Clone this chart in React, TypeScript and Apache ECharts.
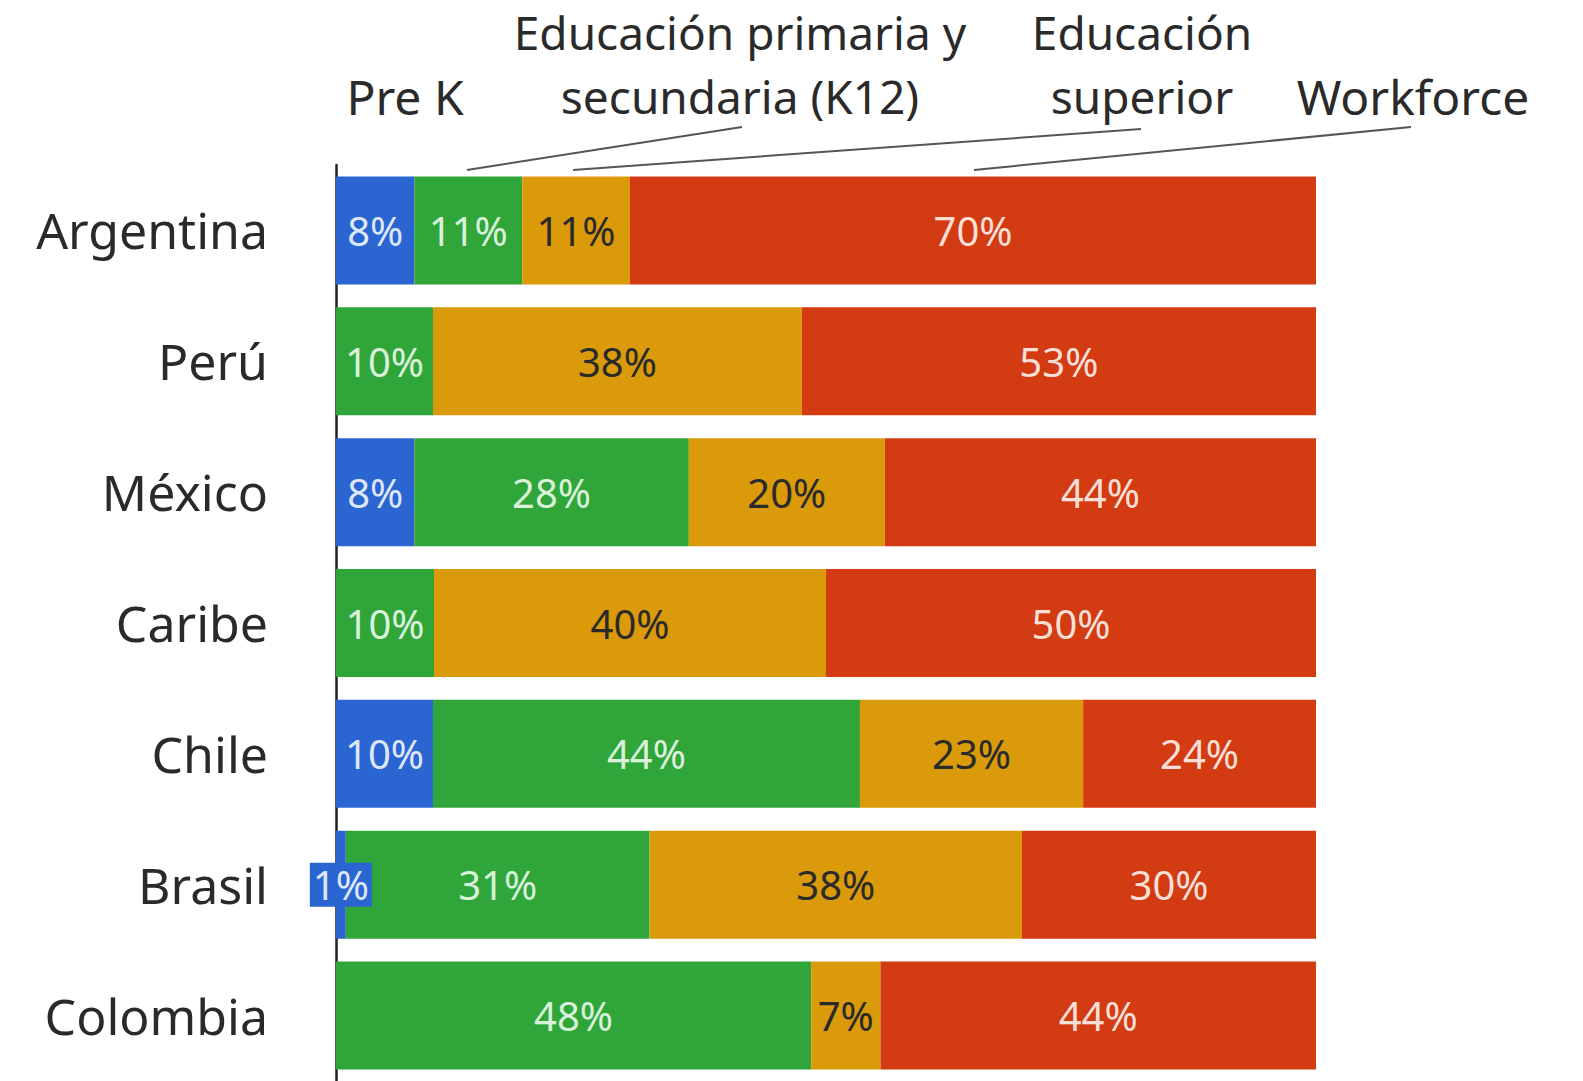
import React, { useEffect, useRef } from "react";
import * as echarts from "echarts";

const countries = ["Argentina", "Perú", "México", "Caribe", "Chile", "Brasil", "Colombia"];
const preK = [8, 0, 8, 0, 10, 1, 0];
const k12 = [11, 10, 28, 10, 44, 31, 48];
const superior = [11, 38, 20, 40, 23, 38, 7];
const workforce = [70, 53, 44, 50, 24, 30, 44];
const seriesNames = ["Pre K", "Educación primaria y secundaria (K12)", "Educación superior", "Workforce"];

const BLUE = "#2b65d1";
const GREEN = "#30a63a";
const ORANGE = "#db9a0a";
const RED = "#d33b12";
const FONT = "'Noto Sans', 'DejaVu Sans', sans-serif";

export default function App() {
  const ref = useRef<HTMLDivElement>(null);
  useEffect(() => {
    if (!ref.current) return;
    const chart = echarts.init(ref.current, null, { renderer: "svg" });
    const all = [preK, k12, superior, workforce];
    const totals = countries.map((_, i) => all.reduce((s, a) => s + a[i], 0));
    const colors = [BLUE, GREEN, ORANGE, RED];
    const labelColors = ["rgba(240,245,255,0.92)", "rgba(235,250,235,0.92)", "#2a2a2a", "rgba(255,240,235,0.92)"];

    const series = all.map((arr, si) => ({
      name: seriesNames[si],
      type: "bar",
      stack: "total",
      barWidth: 108,
      itemStyle: { color: colors[si] },
      label: {
        show: true,
        position: "inside",
        fontFamily: FONT,
        fontSize: 40,
        color: labelColors[si],
        formatter: (p: any) => (p.data && p.data.raw ? p.data.raw + "%" : ""),
      },
      data: arr.map((v, i) => {
        if (!v) return { value: null, raw: 0 };
        const item: any = { value: (v / totals[i]) * 100, raw: v };
        if (si === 0 && v < 3) {
          item.label = { backgroundColor: BLUE, padding: [4, 3, 0, 3] };
        }
        return item;
      }),
    }));

    const textStyle = (text: string, size = 50) => ({
      text,
      fontFamily: FONT,
      fontSize: size,
      fill: "#2a2a2a",
      textAlign: "center",
      textVerticalAlign: "middle",
    });
    const lineStyle = { stroke: "#555", lineWidth: 2 };

    chart.setOption({
      animation: false,
      grid: { left: 336, top: 165, height: 925, right: 267 },
      xAxis: { type: "value", min: 0, max: 100, show: false },
      yAxis: {
        type: "category",
        data: countries,
        inverse: true,
        axisLine: { show: true, lineStyle: { color: "#222", width: 2.5 } },
        axisTick: { show: false },
        axisLabel: { fontFamily: FONT, fontSize: 50, color: "#2a2a2a", margin: 68 },
      },
      series,
      graphic: [
        { type: "text", x: 405, y: 96, style: textStyle("Pre K", 48) },
        { type: "text", x: 740, y: 32, style: textStyle("Educación primaria y", 46) },
        { type: "text", x: 740, y: 96, style: textStyle("secundaria (K12)", 46) },
        { type: "text", x: 1142, y: 32, style: textStyle("Educación", 46) },
        { type: "text", x: 1142, y: 96, style: textStyle("superior", 46) },
        { type: "text", x: 1413, y: 96, style: textStyle("Workforce", 48) },
        { type: "line", shape: { x1: 742, y1: 127, x2: 467, y2: 170 }, style: lineStyle },
        { type: "line", shape: { x1: 1141, y1: 129, x2: 573, y2: 170 }, style: lineStyle },
        { type: "line", shape: { x1: 1411, y1: 127, x2: 974, y2: 170 }, style: lineStyle },
      ],
    });
    return () => chart.dispose();
  }, []);
  return (
    <div
      ref={ref}
      style={{ position: "fixed", left: 0, top: 0, width: 1583, height: 1081, background: "#fff" }}
    />
  );
}
